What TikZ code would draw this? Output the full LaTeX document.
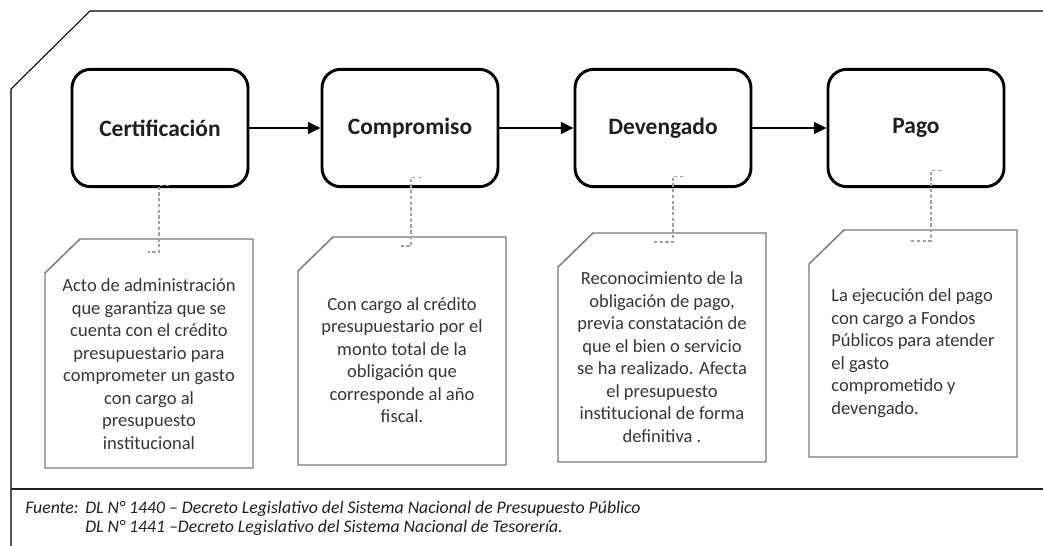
\documentclass[tikz,border=0pt]{standalone}
\usepackage{fontspec}
\setmainfont{Carlito}
\usetikzlibrary{arrows.meta}
\definecolor{tinta}{HTML}{1F1F1F}
\definecolor{gristexto}{HTML}{363636}
\definecolor{grisborde}{HTML}{7A7A7A}
\definecolor{grisenlace}{HTML}{A0A0A0}
\tikzset{
  etapa/.style={draw=black, line width=2.2pt, rounded corners=14pt,
    minimum width=132pt, minimum height=88pt, text=tinta,
    font=\fontsize{17.6}{20}\selectfont\bfseries},
  nota/.style={align=center, text=gristexto, inner sep=0pt,
    font=\fontsize{13.9}{16.9}\selectfont},
  borde/.style={draw=grisborde, line width=1.1pt},
  enlace/.style={draw=grisenlace, line width=0.8pt, dash pattern=on 2.5pt off 1.8pt},
  flecha/.style={line width=1.4pt, -{Triangle[length=9.5pt,width=9pt]}},
  marco/.style={line width=0.8pt},
  pie/.style={align=left, inner sep=0pt, text=tinta,
    font=\fontsize{13.3}{14.3}\selectfont\itshape}
}
\begin{document}
\begin{tikzpicture}[x=0.75pt, y=-0.75pt]
  \newcommand\recorte[3]{
    \draw[borde] ([shift={(-104,#3)}]#1.center) -- ([shift={(-104,#2+34)}]#1.center)
      -- ([shift={(-69,#2)}]#1.center) -- ([shift={(104,#2)}]#1.center)
      -- ([shift={(104,#3)}]#1.center) -- cycle;}
  \useasboundingbox (0,0) rectangle (1043,546);
  % marco
  \draw[marco] (1043,11) -- (90,11) -- (11,89) -- (11,546);
  \draw[line width=1.8pt, draw=tinta] (11,489) -- (1043,489);

  % etapas
  \node[etapa] (cert) at (160,128) {Certificación};
  \node[etapa] (comp) at (410,128) {Compromiso};
  \node[etapa] (dev)  at (663,128) {Devengado};
  \node[etapa] (pago) at (916,128) {Pago};
  \draw[flecha] (cert) -- (comp);
  \draw[flecha] (comp) -- (dev);
  \draw[flecha] (dev) -- (pago);

  % notas
  \node[nota] (n1) at (149,364) {Acto de administración\\ que garantiza que se\\ cuenta con el crédito\\
    presupuestario para\\ comprometer un gasto\\ con cargo al\\ presupuesto\\ institucional};
  \node[nota] (n2) at (402,360) {Con cargo al crédito\\ presupuestario por el\\ monto total de la\\
    obligación que\\ corresponde al año\\ fiscal.};
  \node[nota] (n3) at (662,357) {Reconocimiento de la\\ obligación de pago,\\ previa constatación de\\
    que el bien o servicio\\ se ha realizado. Afecta\\ el presupuesto\\ institucional de forma\\ definitiva .};
  \node[nota, align=left] (n4) at (913,353) {La ejecución del pago\\ con cargo a Fondos\\
    Públicos para atender\\ el gasto\\ comprometido y\\ devengado.};
  \recorte{n1}{-125}{104}
  \recorte{n2}{-123}{105}
  \recorte{n3}{-124}{105}
  \recorte{n4}{-123}{104}

  \draw[enlace] ([shift={(9,-3)}]cert.south) -- ++(-10,0) |- ([shift={(-1,-112)}]n1.center);
  \draw[enlace] ([shift={(11,-11)}]comp.south) -- ++(-10,0) |- ([shift={(-1,-114)}]n2.center);
  \draw[enlace] ([shift={(20,-12)}]dev.south) -- ++(-10,0) |- ([shift={(-10,-115)}]n3.center);
  \draw[enlace] ([shift={(25,-18)}]pago.south) -- ++(-10,0) |- ([shift={(-3,-112)}]n4.center);

  % fuente
  \node[pie, anchor=west] (fuente) at (25,518)
    {\makebox[45pt][l]{Fuente:}DL N° 1440 – Decreto Legislativo del Sistema Nacional de Presupuesto Público\\
     \hspace*{45pt}DL N° 1441 –Decreto Legislativo del Sistema Nacional de Tesorería.};
\end{tikzpicture}
\end{document}
